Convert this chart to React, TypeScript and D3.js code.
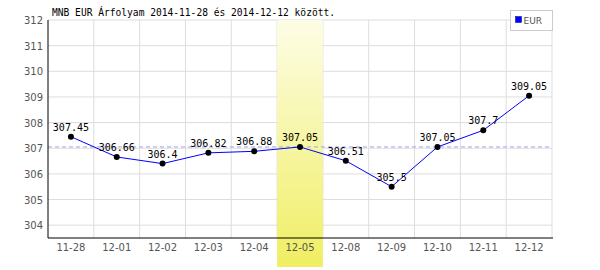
import React from "react";
import * as d3 from "d3";

const categories = ["11-28","12-01","12-02","12-03","12-04","12-05","12-08","12-09","12-10","12-11","12-12"];
const values = [307.45,306.66,306.4,306.82,306.88,307.05,306.51,305.5,307.05,307.7,309.05];
const yTicks = [304,305,306,307,308,309,310,311,312];
const refValue = 307.05;
const highlight = "12-05";
const title = "MNB EUR Árfolyam 2014-11-28 és 2014-12-12 között.";
const seriesName = "EUR";

export default function App() {
  const W = 600, H = 270;
  const left = 48, right = 552, top = 20, bottom = 238;
  const x = d3.scaleBand<string>().domain(categories).range([left, right]);
  const y = d3.scaleLinear().domain([303.5, 312]).range([bottom, top]);
  const line = d3.line<number>().x((_, i) => x(categories[i])! + x.bandwidth() / 2).y(d => y(d));
  const mono = "'DejaVu Sans Mono', monospace";
  const sans = "'DejaVu Sans', sans-serif";
  return (
    <svg width={W} height={H} style={{ position: "absolute", left: 0, top: 0, background: "#fff" }}>
      <defs>
        <linearGradient id="hl" x1="0" y1="0" x2="0" y2="1">
          <stop offset="0" stopColor="#fdfde6" />
          <stop offset="1" stopColor="#f0ee62" />
        </linearGradient>
      </defs>
      {yTicks.map(t => (
        <line key={"h" + t} x1={left} x2={right} y1={y(t)} y2={y(t)} stroke="#dddddd" />
      ))}
      {categories.map((c, i) => (
        <line key={"v" + c} x1={x(c)! + x.bandwidth()} x2={x(c)! + x.bandwidth()} y1={top} y2={bottom} stroke="#dddddd" />
      ))}
      <rect x={x(highlight)!} y={top} width={x.bandwidth()} height={H - 3 - top} fill="url(#hl)" />
      <line x1={left} x2={right} y1={y(refValue)} y2={y(refValue)} stroke="#9fa3ee" strokeDasharray="4,3" />
      <line x1={left} x2={left} y1={top} y2={bottom} stroke="#000" />
      <line x1={left} x2={right + 1} y1={bottom} y2={bottom} stroke="#000" />
      {yTicks.map(t => (
        <text key={"t" + t} x={left - 5} y={y(t) + 4} textAnchor="end" fontFamily={sans} fontSize={10} fill="#555">{t}</text>
      ))}
      {categories.map(c => (
        <text key={"x" + c} x={x(c)! + x.bandwidth() / 2} y={bottom + 13} textAnchor="middle" fontFamily={sans} fontSize={10} fill="#555">{c}</text>
      ))}
      <path d={line(values)!} fill="none" stroke="#0000ff" strokeWidth={1} />
      {values.map((v, i) => (
        <circle key={"p" + i} cx={x(categories[i])! + x.bandwidth() / 2} cy={y(v)} r={3} fill="#000" />
      ))}
      {values.map((v, i) => (
        <text key={"l" + i} x={x(categories[i])! + x.bandwidth() / 2} y={y(v) - 6} textAnchor="middle" fontFamily={mono} fontSize={10} fill="#000">{String(v)}</text>
      ))}
      <text x={52} y={16} fontFamily={mono} fontSize={9.6} fill="#000">{title}</text>
      <rect x={510.5} y={10.5} width={42} height={20} fill="#fff" stroke="#cccccc" />
      <rect x={515.5} y={16.5} width={6} height={6} fill="#0000ff" stroke="#000080" strokeWidth={0.5} />
      <text x={523.5} y={23.5} fontFamily={sans} fontSize={9} fill="#555">{seriesName}</text>
    </svg>
  );
}
